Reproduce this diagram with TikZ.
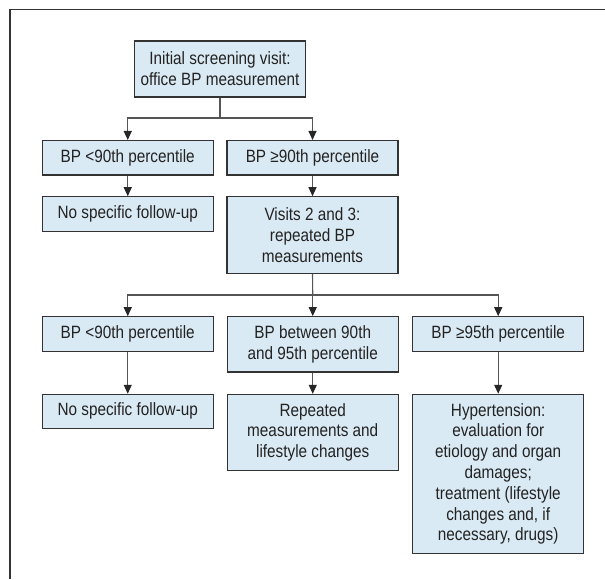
\documentclass[tikz,border=0pt]{standalone}
\usepackage{fontspec}
\setmainfont[FakeStretch=0.86]{Liberation Sans}
\usetikzlibrary{arrows.meta}
\definecolor{boxfill}{HTML}{DAEAF4}
\definecolor{boxline}{HTML}{333333}
\definecolor{conn}{HTML}{555555}
\definecolor{txt}{HTML}{222222}
\definecolor{tipc}{HTML}{262626}
\tikzset{
  box/.style={draw=boxline, line width=1.1pt, fill=boxfill, minimum width=171pt,
    align=center, inner sep=0pt, text=txt, font=\fontsize{17.8}{20.8}\selectfont},
  arr/.style={draw=conn, line width=1.1pt, -{Triangle[length=9pt,width=8pt,color=tipc,fill=tipc]}},
  ln/.style={draw=conn, line width=1.1pt}
}
\begin{document}
\begin{tikzpicture}[x=1pt,y=-1pt]
\useasboundingbox (0,0) rectangle (605,579);
% frame
\draw[line width=1.5pt, draw=boxline] (10,579) -- (10,9.5) -- (605,9.5);
% nodes
\node[box, minimum height=56pt] (b1) at (220,69) {Initial screening visit:\\office BP measurement};
\node[box, minimum height=34.5pt] (b2l) at (127.75,157.75) {BP <90th percentile};
\node[box, minimum height=34.5pt] (b2r) at (312.5,157.75) {BP ≥90th percentile};
\node[box, minimum height=34.5pt] (f2l) at (127.75,214) {No specific follow-up};
\node[box, minimum height=76.5pt] (v) at (312.5,235) {Visits 2 and 3:\\repeated BP\\measurements};
\node[box, minimum height=34.5pt] (r3l) at (127.75,334) {BP <90th percentile};
\node[box, minimum height=55.3pt] (r3m) at (312.75,344.3) {BP between 90th\\and 95th percentile};
\node[box, minimum height=34.5pt] (r3r) at (498.2,334) {BP ≥95th percentile};
\node[box, minimum height=34pt] (r4l) at (127.75,411.3) {No specific follow-up};
\node[box, minimum height=75.7pt] (r4m) at (312.75,432.2) {Repeated\\measurements and\\lifestyle changes};
\node[box, minimum height=159pt] (r4r) at (498.2,473.8) {Hypertension:\\evaluation for\\etiology and organ\\damages;\\treatment (lifestyle\\changes and, if\\necessary, drugs)};
% junctions
\coordinate (j1) at (220,118);
\coordinate (j2) at (312.75,295);
% connectors
\draw[ln] (b1.south) -- (j1);
\draw[arr] (j1) -| (b2l.north);
\draw[arr] (j1) -| (b2r.north);
\draw[arr] (b2l) -- (f2l);
\draw[arr] (b2r) -- (v);
\draw[ln] (v.south) -- (j2);
\draw[arr] (j2) -| (r3l.north);
\draw[arr] (j2) -- (r3m.north);
\draw[arr] (j2) -| (r3r.north);
\draw[arr] (r3l) -- (r4l);
\draw[arr] (r3m) -- (r4m);
\draw[arr] (r3r) -- (r4r);
\end{tikzpicture}
\end{document}
